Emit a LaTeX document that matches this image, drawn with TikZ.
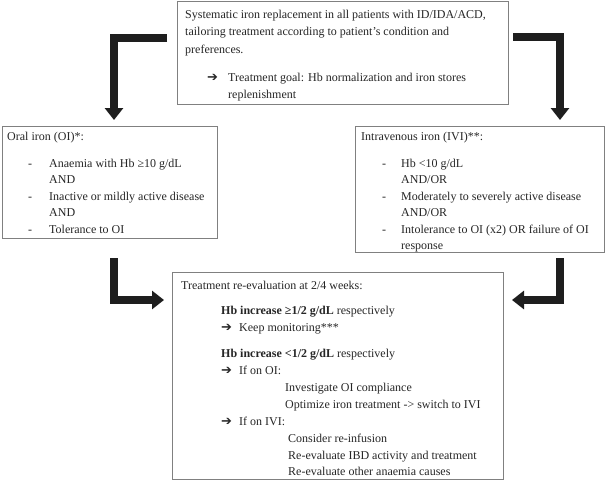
\documentclass[tikz,border=0pt]{standalone}
\usepackage{fontspec}
\setmainfont{Liberation Serif}
\newfontfamily\symfont{DejaVu Sans}
\usetikzlibrary{arrows.meta}
\definecolor{boxgray}{HTML}{808080}
\definecolor{arrowblack}{HTML}{1E1E1E}
\definecolor{txtcol}{HTML}{262626}
\newcommand{\harr}{{\symfont\fontsize{13}{13}\selectfont ➔}}
\begin{document}
\begin{tikzpicture}[x=1pt,y=-1pt,
  box/.style={draw=boxgray, line width=1.3pt, fill=white, inner sep=0pt, anchor=north west},
  txt/.style={anchor=base west, inner sep=0pt, text=txtcol, font=\fontsize{12}{14}\selectfont},
  bigarrow/.style={line width=8pt, draw=arrowblack, line join=miter, -{Triangle[width=18pt,length=12pt]}}
]
\useasboundingbox (0,0) rectangle (606,482);
% boxes
\node[box, minimum width=331pt, minimum height=103pt] (topbox) at (177,1) {};
\node[box, minimum width=215pt, minimum height=112pt] (oibox) at (2,126) {};
\node[box, minimum width=249pt, minimum height=126pt] (ivibox) at (355,126) {};
\node[box, minimum width=331pt, minimum height=207pt] (evalbox) at (172,272) {};
% top box text
\node[txt] (t1) at (185,18) {Systematic iron replacement in all patients with ID/IDA/ACD,};
\node[txt] (t2) at (185,35.5) {tailoring treatment according to patient’s condition and};
\node[txt] (t3) at (185,53) {preferences.};
\node[txt] (t4a) at (207,81) {\harr};
\node[txt] (t4) at (228,81) {Treatment goal: Hb normalization and iron stores};
\node[txt] (t5) at (228,98) {replenishment};
% oral iron box
\node[txt] (o0) at (7,140) {Oral iron (OI)*:};
\node[txt] (o1d) at (28,167) {-};
\node[txt] (o1) at (49,167) {Anaemia with Hb ≥10 g/dL};
\node[txt] (o2) at (49,183) {AND};
\node[txt] (o3d) at (28,200) {-};
\node[txt] (o3) at (49,200) {Inactive or mildly active disease};
\node[txt] (o4) at (49,216) {AND};
\node[txt] (o5d) at (28,233) {-};
\node[txt] (o5) at (49,233) {Tolerance to OI};
% IV iron box
\node[txt] (i0) at (361,140) {Intravenous iron (IVI)**:};
\node[txt] (i1d) at (382,167) {-};
\node[txt] (i1) at (401,167) {Hb <10 g/dL};
\node[txt] (i2) at (401,183) {AND/OR};
\node[txt] (i3d) at (382,200) {-};
\node[txt] (i3) at (401,200) {Moderately to severely active disease};
\node[txt] (i4) at (401,216) {AND/OR};
\node[txt] (i5d) at (382,233) {-};
\node[txt] (i5) at (401,233) {Intolerance to OI (x2) OR failure of OI};
\node[txt] (i6) at (401,249) {response};
% evaluation box
\node[txt] (e0) at (181,289) {Treatment re-evaluation at 2/4 weeks:};
\node[txt] (e1) at (221,314) {\textbf{Hb increase ≥1/2 g/dL} respectively};
\node[txt] (e2a) at (221,331) {\harr};
\node[txt] (e2) at (239,331) {Keep monitoring***};
\node[txt] (e3) at (221,357) {\textbf{Hb increase <1/2 g/dL} respectively};
\node[txt] (e4a) at (221,374) {\harr};
\node[txt] (e4) at (239,374) {If on OI:};
\node[txt] (e5) at (285,391) {Investigate OI compliance};
\node[txt] (e6) at (285,408) {Optimize iron treatment -> switch to IVI};
\node[txt] (e7a) at (221,425) {\harr};
\node[txt] (e7) at (239,425) {If on IVI:};
\node[txt] (e8) at (288,442) {Consider re-infusion};
\node[txt] (e9) at (288,459) {Re-evaluate IBD activity and treatment};
\node[txt] (e10) at (288,475) {Re-evaluate other anaemia causes};
% arrows
\coordinate (a1s) at (167,38);
\coordinate (a1e) at (114,120);
\coordinate (a2s) at (513,37);
\coordinate (a2e) at (560,120);
\coordinate (a3s) at (114,258);
\coordinate (a3e) at (164,300);
\coordinate (a4s) at (560,258);
\coordinate (a4e) at (512,300);
\draw[bigarrow] (a1s) -| (a1e);
\draw[bigarrow] (a2s) -| (a2e);
\draw[bigarrow] (a3s) |- (a3e);
\draw[bigarrow] (a4s) |- (a4e);
\end{tikzpicture}
\end{document}
